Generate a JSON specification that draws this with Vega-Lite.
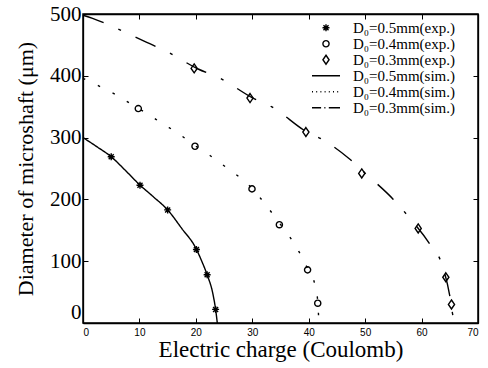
{
  "$schema": "https://vega.github.io/schema/vega-lite/v6.json",
  "autosize": "none",
  "width": 395,
  "height": 309,
  "padding": {"left": 83, "top": 14, "right": 10, "bottom": 45},
  "background": "white",
  "config": {
    "view": {"stroke": "black", "strokeWidth": 1.5},
    "axis": {"grid": false, "domainColor": "black", "domainWidth": 1.3, "tickColor": "black", "tickWidth": 1, "labelColor": "black", "titleColor": "black", "titleFontWeight": "normal", "tickSize": -5}
  },
  "datasets": {
    "exp": [
      {"series": "D₀=0.5mm(exp.)", "x": 5, "y": 269},
      {"series": "D₀=0.5mm(exp.)", "x": 10.1, "y": 223},
      {"series": "D₀=0.5mm(exp.)", "x": 15, "y": 183},
      {"series": "D₀=0.5mm(exp.)", "x": 20.1, "y": 119},
      {"series": "D₀=0.5mm(exp.)", "x": 22, "y": 78},
      {"series": "D₀=0.5mm(exp.)", "x": 23.5, "y": 22},
      {"series": "D₀=0.4mm(exp.)", "x": 9.8, "y": 347},
      {"series": "D₀=0.4mm(exp.)", "x": 19.85, "y": 286},
      {"series": "D₀=0.4mm(exp.)", "x": 29.95, "y": 217},
      {"series": "D₀=0.4mm(exp.)", "x": 34.8, "y": 159},
      {"series": "D₀=0.4mm(exp.)", "x": 39.8, "y": 86},
      {"series": "D₀=0.4mm(exp.)", "x": 41.6, "y": 32},
      {"series": "D₀=0.3mm(exp.)", "x": 19.7, "y": 412},
      {"series": "D₀=0.3mm(exp.)", "x": 29.6, "y": 364},
      {"series": "D₀=0.3mm(exp.)", "x": 39.5, "y": 309},
      {"series": "D₀=0.3mm(exp.)", "x": 49.4, "y": 242},
      {"series": "D₀=0.3mm(exp.)", "x": 59.4, "y": 153},
      {"series": "D₀=0.3mm(exp.)", "x": 64.3, "y": 74},
      {"series": "D₀=0.3mm(exp.)", "x": 65.3, "y": 30}
    ],
    "sim": [
      {"series": "D₀=0.5mm(sim.)", "x": 0, "y": 300},
      {"series": "D₀=0.5mm(sim.)", "x": 2.5, "y": 285},
      {"series": "D₀=0.5mm(sim.)", "x": 5, "y": 269},
      {"series": "D₀=0.5mm(sim.)", "x": 7.5, "y": 247},
      {"series": "D₀=0.5mm(sim.)", "x": 10, "y": 224},
      {"series": "D₀=0.5mm(sim.)", "x": 12.5, "y": 204},
      {"series": "D₀=0.5mm(sim.)", "x": 15, "y": 183},
      {"series": "D₀=0.5mm(sim.)", "x": 17.5, "y": 153},
      {"series": "D₀=0.5mm(sim.)", "x": 20, "y": 121},
      {"series": "D₀=0.5mm(sim.)", "x": 21, "y": 101},
      {"series": "D₀=0.5mm(sim.)", "x": 22, "y": 78},
      {"series": "D₀=0.5mm(sim.)", "x": 23, "y": 48},
      {"series": "D₀=0.5mm(sim.)", "x": 23.5, "y": 22},
      {"series": "D₀=0.5mm(sim.)", "x": 23.8, "y": 0},
      {"series": "D₀=0.4mm(sim.)", "x": 0, "y": 396},
      {"series": "D₀=0.4mm(sim.)", "x": 2.7, "y": 384},
      {"series": "D₀=0.4mm(sim.)", "x": 5.7, "y": 370},
      {"series": "D₀=0.4mm(sim.)", "x": 8.6, "y": 354},
      {"series": "D₀=0.4mm(sim.)", "x": 11.3, "y": 339},
      {"series": "D₀=0.4mm(sim.)", "x": 14.2, "y": 322},
      {"series": "D₀=0.4mm(sim.)", "x": 17, "y": 306},
      {"series": "D₀=0.4mm(sim.)", "x": 19.85, "y": 287},
      {"series": "D₀=0.4mm(sim.)", "x": 22.5, "y": 271},
      {"series": "D₀=0.4mm(sim.)", "x": 25.2, "y": 253},
      {"series": "D₀=0.4mm(sim.)", "x": 29.95, "y": 218},
      {"series": "D₀=0.4mm(sim.)", "x": 32.4, "y": 191},
      {"series": "D₀=0.4mm(sim.)", "x": 34.8, "y": 162},
      {"series": "D₀=0.4mm(sim.)", "x": 36.6, "y": 140},
      {"series": "D₀=0.4mm(sim.)", "x": 38.3, "y": 115},
      {"series": "D₀=0.4mm(sim.)", "x": 39.8, "y": 88},
      {"series": "D₀=0.4mm(sim.)", "x": 41.1, "y": 62},
      {"series": "D₀=0.4mm(sim.)", "x": 41.6, "y": 35},
      {"series": "D₀=0.4mm(sim.)", "x": 41.8, "y": 0},
      {"series": "D₀=0.3mm(sim.)", "x": 0, "y": 498},
      {"series": "D₀=0.3mm(sim.)", "x": 1.7, "y": 493},
      {"series": "D₀=0.3mm(sim.)", "x": 5.4, "y": 479},
      {"series": "D₀=0.3mm(sim.)", "x": 11.3, "y": 454},
      {"series": "D₀=0.3mm(sim.)", "x": 14.9, "y": 439},
      {"series": "D₀=0.3mm(sim.)", "x": 20.4, "y": 411},
      {"series": "D₀=0.3mm(sim.)", "x": 24.3, "y": 396},
      {"series": "D₀=0.3mm(sim.)", "x": 30.1, "y": 364},
      {"series": "D₀=0.3mm(sim.)", "x": 33.4, "y": 350},
      {"series": "D₀=0.3mm(sim.)", "x": 39.9, "y": 308},
      {"series": "D₀=0.3mm(sim.)", "x": 42.2, "y": 298},
      {"series": "D₀=0.3mm(sim.)", "x": 47.3, "y": 265},
      {"series": "D₀=0.3mm(sim.)", "x": 50.3, "y": 240},
      {"series": "D₀=0.3mm(sim.)", "x": 55, "y": 200},
      {"series": "D₀=0.3mm(sim.)", "x": 57.6, "y": 173},
      {"series": "D₀=0.3mm(sim.)", "x": 61.5, "y": 127},
      {"series": "D₀=0.3mm(sim.)", "x": 63.6, "y": 95},
      {"series": "D₀=0.3mm(sim.)", "x": 65, "y": 44},
      {"series": "D₀=0.3mm(sim.)", "x": 65.6, "y": 10},
      {"series": "D₀=0.3mm(sim.)", "x": 66, "y": 0}
    ]
  },
  "layer": [
    {
      "data": {"name": "sim"},
      "mark": {"type": "line", "color": "black", "strokeWidth": 1.4, "interpolate": "monotone"},
      "encoding": {
        "x": {"field": "x", "type": "quantitative", "scale": {"domain": [0, 70], "nice": false},
          "axis": {"orient": "bottom", "values": [0, 10, 20, 30, 40, 50, 60, 70], "labelFont": "Liberation Sans", "labelFontSize": 10, "labelPadding": 9, "title": "Electric charge (Coulomb)", "titleFont": "Liberation Serif", "titleFontSize": 23, "titlePadding": 1}},
        "y": {"field": "y", "type": "quantitative", "scale": {"domain": [0, 500], "nice": false},
          "axis": {"orient": "left", "values": [0, 100, 200, 300, 400, 500], "labelFont": "Liberation Serif", "labelFontSize": 21, "labelPadding": 7, "labelOffset": {"condition": {"test": "datum.value == 0", "value": -11}, "value": 0}, "title": "Diameter of microshaft (μm)", "titleFont": "Liberation Serif", "titleFontSize": 22, "titlePadding": 12}},
        "strokeDash": {"field": "series", "type": "nominal",
          "scale": {"domain": ["D₀=0.5mm(sim.)", "D₀=0.4mm(sim.)", "D₀=0.3mm(sim.)"], "range": [[1, 0], [2.5, 14], [22, 16, 3, 16]]},
          "legend": null}
      }
    },
    {
      "data": {"name": "exp"},
      "mark": {"type": "point", "filled": false, "color": "black", "strokeWidth": 1.4, "size": 784, "opacity": 1},
      "encoding": {
        "x": {"field": "x", "type": "quantitative", "scale": {"domain": [0, 70], "nice": false},
          "axis": {"orient": "top", "values": [0, 10, 20, 30, 40, 50, 60, 70], "labels": false, "title": null}},
        "y": {"field": "y", "type": "quantitative", "scale": {"domain": [0, 500], "nice": false},
          "axis": {"orient": "right", "values": [0, 100, 200, 300, 400, 500], "labels": false, "title": null}},
        "shape": {"field": "series", "type": "nominal",
          "scale": {
            "domain": ["D₀=0.5mm(exp.)", "D₀=0.4mm(exp.)", "D₀=0.3mm(exp.)", "D₀=0.5mm(sim.)", "D₀=0.4mm(sim.)", "D₀=0.3mm(sim.)"],
            "range": [
              "M-0.25,0L0.25,0M0,-0.25L0,0.25M-0.18,-0.18L0.18,0.18M-0.18,0.18L0.18,-0.18",
              "M0.22,0A0.22,0.22,0,1,1,-0.22,0A0.22,0.22,0,1,1,0.22,0Z",
              "M0,-0.32L0.22,0L0,0.32L-0.22,0Z",
              "M-1,0L1,0",
              "M-1,0L-0.93,0M-0.7,0L-0.63,0M-0.4,0L-0.33,0M-0.1,0L-0.03,0M0.2,0L0.27,0M0.5,0L0.57,0M0.8,0L0.87,0",
              "M-1,0L-0.35,0M-0.12,0L-0.04,0M0.2,0L1,0"
            ]
          },
          "legend": {"orient": "none", "legendX": 228, "legendY": 6, "title": null, "padding": 0, "symbolSize": 784, "clipHeight": 15.5, "labelFont": "Liberation Serif", "labelFontSize": 15, "labelColor": "black", "labelOffset": 12, "rowPadding": 0, "symbolStrokeColor": "black", "symbolStrokeWidth": 1.4}
        }
      }
    }
  ],
  "resolve": {"axis": {"x": "independent", "y": "independent"}}
}
